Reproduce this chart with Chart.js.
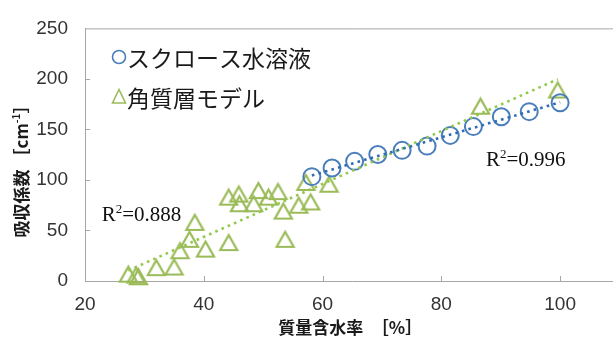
<!DOCTYPE html>
<html>
<head>
<meta charset="utf-8">
<script src="https://cdn.jsdelivr.net/npm/chart.js@4/dist/chart.umd.min.js"></script>
<style>
  html, body { margin: 0; padding: 0; background: #ffffff; overflow: hidden; }
  #wrap { width: 613px; height: 341px; overflow: hidden; }
  canvas { display: block; }
</style>
</head>
<body>
<div id="wrap"><canvas id="c" width="630" height="341"></canvas></div>
<script>
// Mass water content [%] and absorption coefficient [cm^-1]
const sucroseWater = [58.2, 61.6, 65.4, 69.3, 73.4, 77.6, 81.5, 85.4, 90.1, 94.8, 100];
const sucroseAbs   = [103.3, 111.9, 118.4, 125.2, 129.3, 133.5, 144.1, 152.8, 162.5, 167.6, 176.4];

const stratumWater = [27.3, 28.6, 29.0, 32.0, 35.0, 36.0, 37.6, 38.5, 40.3, 44.2, 44.2, 45.9, 46.0,
                      48.4, 49.2, 50.9, 52.5, 53.4, 53.7, 56.0, 58.0, 57.2, 61.1, 86.6, 99.6];
const stratumAbs   = [6.8, 5.8, 4.2, 13.2, 13.8, 30.0, 41.2, 58.0, 31.6, 38.0, 83.0, 86.0, 76.5,
                      76.5, 89.5, 83.0, 88.5, 69.2, 41.2, 75.0, 78.2, 97.5, 95.8, 173.0, 189.0];

const seriesNames = ['スクロース水溶液', '角質層モデル'];
const r2Texts = ['0.996', '0.888'];
// anchor of each R² note, in axis units (left edge, baseline)
const r2AnchorX = [87.5, 22.8];
const r2AnchorY = [114.0, 59.0];

const xMin = 20, xMax = 110, xStep = 20;
const yMin = 0, yMax = 250, yStep = 50;

const BLUE = '#4a7ebb';
const GREEN = '#9bbb59';
const BLUE_TREND = '#2e6db4';
const GREEN_TREND = '#92c84c';
const AXIS = '#a6a6a6';

// least-squares line through a series, spanning its x range
function trend(xs, ys) {
  const n = xs.length;
  const mx = xs.reduce((a, b) => a + b, 0) / n;
  const my = ys.reduce((a, b) => a + b, 0) / n;
  let sxy = 0, sxx = 0;
  for (let i = 0; i < n; i++) { sxy += (xs[i] - mx) * (ys[i] - my); sxx += (xs[i] - mx) ** 2; }
  const k = sxy / sxx, b = my - k * mx;
  const x0 = Math.min(...xs), x1 = Math.max(...xs);
  return [{x: x0, y: k * x0 + b}, {x: x1, y: k * x1 + b}];
}

function pts(xs, ys) { return xs.map((x, i) => ({x, y: ys[i]})); }

// open triangle marker, centred on its bounding box
function triangleMarker(w, h, lw) {
  const pad = 3;
  const cv = document.createElement('canvas');
  cv.width = w + pad * 2; cv.height = h + pad * 2;
  const g = cv.getContext('2d');
  g.strokeStyle = GREEN; g.lineWidth = lw; g.lineJoin = 'miter';
  g.beginPath();
  g.moveTo(pad + w / 2, pad);
  g.lineTo(pad + w, pad + h);
  g.lineTo(pad, pad + h);
  g.closePath();
  g.stroke();
  return cv;
}
const triBig = triangleMarker(17, 15, 2.2);

const innerTicks = {
  id: 'innerTicks',
  afterDraw(chart) {
    const {ctx, chartArea: a, scales: {x, y}} = chart;
    ctx.save();
    ctx.strokeStyle = AXIS; ctx.lineWidth = 1;
    ctx.beginPath();
    ctx.moveTo(a.left, a.top + 0.5); ctx.lineTo(a.right, a.top + 0.5);
    y.ticks.forEach(t => {
      if (t.value === yMin || t.value === yMax) return;
      const py = Math.round(y.getPixelForValue(t.value)) + 0.5;
      ctx.moveTo(a.left, py); ctx.lineTo(a.left + 5, py);
    });
    x.ticks.forEach(t => {
      if (t.value === xMin) return;
      const px = Math.round(x.getPixelForValue(t.value)) + 0.5;
      ctx.moveTo(px, a.bottom); ctx.lineTo(px, a.bottom - 5);
    });
    ctx.stroke();
    ctx.restore();
  }
};

const annotations = {
  id: 'annotations',
  afterDraw(chart) {
    const {ctx, chartArea: a, scales: {x, y}} = chart;
    ctx.save();

    // R² notes
    ctx.fillStyle = '#111';
    ctx.textBaseline = 'alphabetic';
    ctx.textAlign = 'left';
    r2Texts.forEach((v, i) => {
      let px = x.getPixelForValue(r2AnchorX[i]);
      const py = y.getPixelForValue(r2AnchorY[i]);
      ctx.font = '21px "Liberation Serif"';
      ctx.fillText('R', px, py); px += ctx.measureText('R').width;
      ctx.font = '13px "Liberation Serif"';
      ctx.fillText('2', px, py - 8); px += ctx.measureText('2').width;
      ctx.font = '21px "Liberation Serif"';
      ctx.fillText('=' + v, px, py);
    });

    // legend
    ctx.fillStyle = '#1a1a1a';
    ctx.font = '23px "Noto Sans CJK JP"';
    ctx.textBaseline = 'middle';
    const lx = 119, ly = [57, 97];
    ctx.strokeStyle = BLUE; ctx.lineWidth = 1.6;
    ctx.beginPath(); ctx.arc(lx, ly[0], 6.5, 0, Math.PI * 2); ctx.stroke();
    ctx.strokeStyle = GREEN; ctx.lineWidth = 1.6;
    ctx.beginPath();
    ctx.moveTo(lx, ly[1] - 7.5); ctx.lineTo(lx + 6.5, ly[1] + 6); ctx.lineTo(lx - 6.5, ly[1] + 6); ctx.closePath();
    ctx.stroke();
    seriesNames.forEach((s, i) => ctx.fillText(s, lx + 8, ly[i] + 1));

    // axis titles
    ctx.fillStyle = '#1a1a1a';
    ctx.textAlign = 'center';
    ctx.font = 'bold 17px "Noto Sans CJK JP"';
    ctx.fillText('質量含水率　［%］', (a.left + a.right) / 2 - 2, 328);

    ctx.translate(22, 167);
    ctx.rotate(-Math.PI / 2);
    const parts = [
      {t: '吸収係数 ［cm', f: 'bold 17px "Noto Sans CJK JP"', dy: 0},
      {t: '-1', f: 'bold 10px "Noto Sans CJK JP"', dy: -6},
      {t: '］', f: 'bold 17px "Noto Sans CJK JP"', dy: 0}
    ];
    let total = 0;
    parts.forEach(p => { ctx.font = p.f; p.w = ctx.measureText(p.t).width; total += p.w; });
    let cx = -total / 2;
    ctx.textAlign = 'left';
    parts.forEach(p => { ctx.font = p.f; ctx.fillText(p.t, cx, p.dy); cx += p.w; });
    ctx.restore();
  }
};

const tickFont = {family: '"Liberation Sans Narrow", "Liberation Sans", sans-serif', size: 19};

new Chart(document.getElementById('c'), {
  type: 'scatter',
  data: {
    datasets: [
      {
        label: 'trend-sucrose',
        data: trend(sucroseWater, sucroseAbs),
        showLine: true, pointRadius: 0,
        borderColor: BLUE_TREND, borderWidth: 2.6, borderDash: [2.6, 4.2],
        clip: false
      },
      {
        label: 'trend-stratum',
        data: trend(stratumWater, stratumAbs),
        showLine: true, pointRadius: 0,
        borderColor: GREEN_TREND, borderWidth: 2.6, borderDash: [2.6, 4.2],
        clip: false
      },
      {
        label: seriesNames[0],
        data: pts(sucroseWater, sucroseAbs),
        pointStyle: 'circle', pointRadius: 8.5, borderWidth: 2,
        borderColor: BLUE, backgroundColor: 'rgba(0,0,0,0)',
        clip: false
      },
      {
        label: seriesNames[1],
        data: pts(stratumWater, stratumAbs),
        pointStyle: triBig, pointRadius: 8,
        borderColor: GREEN, backgroundColor: 'rgba(0,0,0,0)',
        clip: false
      }
    ]
  },
  options: {
    responsive: false,
    animation: false,
    events: [],
    layout: {padding: {top: 22, right: 8, left: 0, bottom: 0}},
    plugins: {legend: {display: false}, tooltip: {enabled: false}},
    scales: {
      x: {
        type: 'linear', min: xMin, max: xMax,
        grid: {color: 'rgba(0,0,0,0)', drawTicks: false},
        border: {color: AXIS, width: 1},
        ticks: {stepSize: xStep, includeBounds: false, padding: 12, color: '#333', font: tickFont, maxRotation: 0},
        afterFit(s) { s.height = 60; }
      },
      y: {
        type: 'linear', min: yMin, max: yMax,
        grid: {color: 'rgba(0,0,0,0)', drawTicks: false},
        border: {color: AXIS, width: 1},
        ticks: {stepSize: yStep, padding: 17, color: '#333', font: tickFont},
        afterFit(s) { s.width = 85; }
      }
    }
  },
  plugins: [innerTicks, annotations]
});
</script>
</body>
</html>
